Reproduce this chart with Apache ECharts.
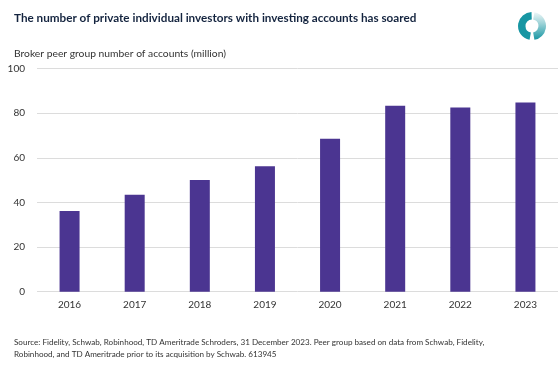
<!DOCTYPE html>
<html>
<head>
<meta charset="utf-8">
<script src="https://cdn.jsdelivr.net/npm/echarts@6/dist/echarts.min.js"></script>
<style>
html,body{margin:0;padding:0;background:#fff;}
#c{width:560px;height:369px;}
</style>
</head>
<body>
<div id="c"></div>
<script>
const categories = ['2016','2017','2018','2019','2020','2021','2022','2023'];
const accounts = [36.2, 43.4, 50.1, 56.2, 68.5, 83.3, 82.5, 84.8];
const yTicks = [0, 20, 40, 60, 80, 100];

const chart = echarts.init(document.getElementById('c'), null, {renderer:'canvas'});
const FONT = 'Lato, "Open Sans", sans-serif';
chart.setOption({
  animation: false,
  backgroundColor: '#fff',
  title: [
    {text: 'The number of private individual investors with investing accounts has soared',
     left: 9, top: 7,
     textStyle: {fontFamily: FONT, fontSize: 11.7, fontWeight: 'bold', color: '#14243f'}},
    {text: 'Broker peer group number of accounts (million)',
     left: 9, top: 44,
     textStyle: {fontFamily: FONT, fontSize: 10.3, fontWeight: 'normal', color: '#333'}},
    {text: 'Source: Fidelity, Schwab, Robinhood, TD Ameritrade Schroders, 31 December 2023. Peer group based on data from Schwab, Fidelity,\nRobinhood, and TD Ameritrade prior to its acquisition by Schwab. 613945',
     left: 9, top: 331,
     textStyle: {fontFamily: FONT, fontSize: 8.1, fontWeight: 'normal', color: '#333', lineHeight: 12}}
  ],
  grid: {left: 37, right: 2, top: 68.5, bottom: 369 - 291.7, containLabel: false},
  xAxis: {
    type: 'category',
    data: categories,
    axisLine: {show: false},
    axisTick: {show: false},
    axisLabel: {fontFamily: FONT, fontSize: 10, color: '#333', margin: 8}
  },
  yAxis: {
    type: 'value',
    min: yTicks[0], max: yTicks[yTicks.length-1], interval: 20,
    axisLine: {show: false},
    axisTick: {show: false},
    axisLabel: {fontFamily: FONT, fontSize: 10, color: '#333', margin: 12},
    splitLine: {lineStyle: {color: '#dcdcdc', width: 1}}
  },
  series: [{
    type: 'bar',
    data: accounts,
    barWidth: 20,
    itemStyle: {color: '#4b3591'}
  }],
  graphic: [
    {type: 'sector', shape: {cx: 532, cy: 26, r: 14, r0: 6.5, startAngle: 100*Math.PI/180, endAngle: 268*Math.PI/180, clockwise: true},
     style: {fill: '#1796a3'}},
    {type: 'sector', shape: {cx: 532, cy: 26, r: 14, r0: 6.5, startAngle: -80*Math.PI/180, endAngle: 80*Math.PI/180, clockwise: true},
     style: {fill: new echarts.graphic.LinearGradient(0, 0, 0, 1, [{offset: 0, color: '#eef7f8'}, {offset: 0.4, color: '#9fd3d8'}, {offset: 1, color: '#1796a3'}])}}
  ]
});
</script>
</body>
</html>
